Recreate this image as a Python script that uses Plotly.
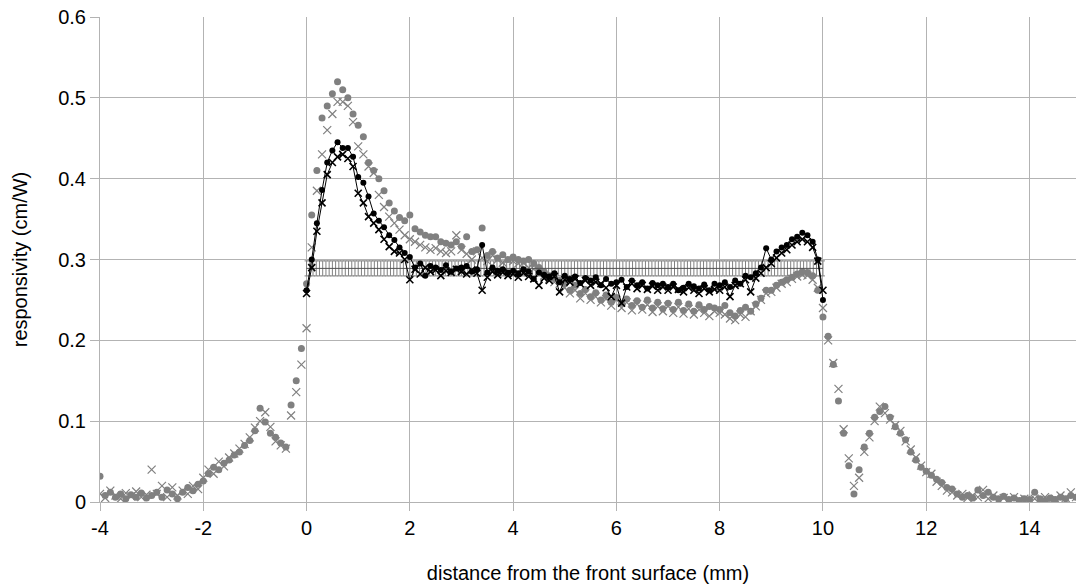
import numpy as np
import plotly.graph_objects as go

# sampling grids (mm)
x_gray = np.round(np.arange(-4.0, 14.95, 0.1), 2)
x_black = np.round(np.arange(0.0, 10.05, 0.1), 2)
x_band = np.round(np.arange(0.0, 10.01, 0.0625), 4)

x_tick_vals = [-4, -2, 0, 2, 4, 6, 8, 10, 12, 14]
x_tick_text = ["-4", "-2", "0", "2", "4", "6", "8", "10", "12", "14"]

gray_dots = [
    0.032, 0.008, 0.012, 0.006, 0.010, 0.004, 0.009, 0.006, 0.011, 0.005,
    0.008, 0.012, 0.006, 0.015, 0.010, 0.004, 0.012, 0.018, 0.014, 0.022,
    0.026, 0.035, 0.043, 0.040, 0.048, 0.052, 0.058, 0.062, 0.070, 0.076,
    0.088, 0.116, 0.099, 0.085, 0.080, 0.073, 0.068, 0.120, 0.150, 0.190,
    0.270, 0.355, 0.410, 0.475, 0.490, 0.505, 0.520, 0.510, 0.500, 0.480,
    0.466, 0.452, 0.420, 0.410, 0.400, 0.385, 0.370, 0.360, 0.352, 0.348,
    0.355, 0.338, 0.334, 0.330, 0.328, 0.328, 0.322, 0.320, 0.318, 0.322,
    0.316, 0.328, 0.310, 0.312, 0.339, 0.305, 0.310, 0.302, 0.306, 0.300,
    0.303, 0.300, 0.298, 0.300, 0.295, 0.290, 0.285, 0.280, 0.277, 0.274,
    0.270, 0.262, 0.268, 0.258, 0.263, 0.254, 0.259, 0.250, 0.256, 0.247,
    0.253, 0.246, 0.251, 0.243, 0.249, 0.241, 0.250, 0.240, 0.247, 0.239,
    0.246, 0.238, 0.247, 0.237, 0.245, 0.236, 0.244, 0.238, 0.242, 0.240,
    0.238, 0.243, 0.234, 0.230, 0.237, 0.241, 0.236, 0.245, 0.252, 0.262,
    0.262, 0.268, 0.272, 0.275, 0.278, 0.282, 0.285, 0.284, 0.280, 0.262,
    0.229, 0.205, 0.170, 0.125, 0.085, 0.045, 0.010, 0.040, 0.068, 0.085,
    0.105, 0.112, 0.118, 0.105, 0.093, 0.085, 0.077, 0.062, 0.052, 0.043,
    0.038, 0.033, 0.028, 0.024, 0.018, 0.016, 0.010, 0.006, 0.008, 0.005,
    0.015, 0.008, 0.012, 0.006, 0.004, 0.007, 0.003, 0.005, 0.002, 0.004,
    0.003, 0.012, 0.004, 0.002, 0.005, 0.003, 0.006, 0.004, 0.008, 0.006,
]

gray_x = [
    0.010, 0.005, 0.014, 0.008, 0.004, 0.011, 0.007, 0.013, 0.006, 0.009,
    0.040, 0.010, 0.020, 0.006, 0.018, 0.008, 0.014, 0.010, 0.020, 0.016,
    0.030, 0.040, 0.035, 0.050, 0.044, 0.055, 0.060, 0.066, 0.072, 0.080,
    0.092, 0.100, 0.111, 0.093, 0.075, 0.070, 0.066, 0.107, 0.136, 0.170,
    0.215, 0.315, 0.385, 0.430, 0.460, 0.480, 0.495, 0.495, 0.490, 0.470,
    0.440, 0.430, 0.415, 0.407, 0.380, 0.365, 0.353, 0.345, 0.337, 0.330,
    0.325, 0.322, 0.318, 0.315, 0.312, 0.314, 0.310, 0.308, 0.310, 0.330,
    0.312, 0.307, 0.300, 0.310, 0.302, 0.298, 0.305, 0.300, 0.296, 0.300,
    0.298, 0.295, 0.296, 0.290, 0.288, 0.285, 0.280, 0.276, 0.272, 0.270,
    0.265, 0.258, 0.262, 0.252, 0.258, 0.250, 0.254, 0.247, 0.251, 0.243,
    0.250, 0.240, 0.247, 0.237, 0.245, 0.238, 0.244, 0.235, 0.242, 0.236,
    0.242, 0.234, 0.241, 0.233, 0.239, 0.232, 0.238, 0.234, 0.230, 0.236,
    0.234, 0.232, 0.227, 0.225, 0.232, 0.229, 0.236, 0.242, 0.250, 0.258,
    0.260, 0.265, 0.270, 0.272, 0.276, 0.279, 0.281, 0.280, 0.275, 0.265,
    0.240, 0.200, 0.172, 0.140, 0.090, 0.054, 0.020, 0.030, 0.062, 0.080,
    0.100, 0.118, 0.110, 0.102, 0.095, 0.088, 0.075, 0.065, 0.055, 0.045,
    0.037, 0.035, 0.025, 0.020, 0.014, 0.012, 0.008, 0.010, 0.005, 0.008,
    0.006, 0.015, 0.004, 0.008, 0.003, 0.005, 0.002, 0.006, 0.003, 0.004,
    0.002, 0.004, 0.003, 0.006, 0.002, 0.004, 0.008, 0.005, 0.012, 0.006,
]

black_dots = [
    0.262, 0.300, 0.345, 0.386, 0.420, 0.435, 0.445, 0.438, 0.438, 0.427,
    0.402, 0.395, 0.378, 0.357, 0.348, 0.340, 0.330, 0.324, 0.315, 0.308,
    0.303, 0.290, 0.295, 0.280, 0.292, 0.290, 0.287, 0.293, 0.285, 0.289,
    0.290, 0.292, 0.285, 0.288, 0.318, 0.284, 0.290, 0.286, 0.288, 0.284,
    0.286, 0.283, 0.288, 0.285, 0.276, 0.284, 0.281, 0.279, 0.283, 0.272,
    0.280, 0.276, 0.279, 0.271, 0.277, 0.274, 0.278, 0.268, 0.276, 0.270,
    0.272, 0.275, 0.266, 0.274, 0.268, 0.272, 0.264, 0.271, 0.268, 0.270,
    0.266, 0.270, 0.262, 0.265, 0.270, 0.267, 0.264, 0.269, 0.262, 0.270,
    0.268, 0.272, 0.266, 0.274, 0.270, 0.280, 0.278, 0.283, 0.290, 0.314,
    0.300, 0.310, 0.315, 0.318, 0.325, 0.328, 0.333, 0.330, 0.322, 0.300,
    0.250,
]

black_x = [
    0.258, 0.290, 0.335, 0.370, 0.405, 0.420, 0.427, 0.430, 0.425, 0.415,
    0.382, 0.370, 0.353, 0.345, 0.337, 0.325, 0.316, 0.310, 0.308, 0.300,
    0.275, 0.288, 0.282, 0.290, 0.285, 0.287, 0.280, 0.286, 0.284, 0.288,
    0.285, 0.282, 0.287, 0.283, 0.262, 0.278, 0.285, 0.281, 0.284, 0.280,
    0.282, 0.278, 0.283, 0.279, 0.276, 0.268, 0.277, 0.274, 0.279, 0.260,
    0.275, 0.272, 0.276, 0.270, 0.274, 0.268, 0.272, 0.270, 0.265, 0.254,
    0.268, 0.246, 0.266, 0.270, 0.264, 0.268, 0.263, 0.267, 0.262, 0.266,
    0.262, 0.266, 0.263, 0.260, 0.265, 0.262, 0.258, 0.264, 0.260, 0.263,
    0.262, 0.266, 0.254, 0.268, 0.270, 0.275, 0.260, 0.277, 0.283, 0.290,
    0.295, 0.302, 0.308, 0.312, 0.318, 0.322, 0.325, 0.322, 0.315, 0.298,
    0.262,
]

band_level = 0.289
band_half = 0.0093

GRAY = "#808080"
GRID = "#b3b3b3"
FONT = "Liberation Sans, Arial, sans-serif"

fig = go.Figure()
fig.add_trace(go.Scatter(
    x=x_gray, y=gray_dots, mode="markers",
    marker=dict(symbol="circle", size=7, color=GRAY, line=dict(width=0)),
))
fig.add_trace(go.Scatter(
    x=x_gray, y=gray_x, mode="markers",
    marker=dict(symbol="x-thin", size=8, color=GRAY, line=dict(width=1.2, color=GRAY)),
))
fig.add_trace(go.Scatter(
    x=x_band, y=[band_level] * len(x_band), mode="lines",
    line=dict(color="#505050", width=1),
    error_y=dict(type="constant", value=band_half, color=GRAY, thickness=1, width=2),
))
fig.add_trace(go.Scatter(
    x=x_black, y=black_x, mode="lines+markers",
    line=dict(color="black", width=1),
    marker=dict(symbol="x-thin", size=7, color="black", line=dict(width=1.6, color="black")),
))
fig.add_trace(go.Scatter(
    x=x_black, y=black_dots, mode="lines+markers",
    line=dict(color="black", width=1),
    marker=dict(symbol="circle", size=6, color="black"),
))

fig.update_layout(
    width=1076, height=586,
    margin=dict(l=100, r=0, t=17, b=84, autoexpand=False),
    paper_bgcolor="white", plot_bgcolor="white",
    showlegend=False,
    hovermode=False,
    font=dict(family=FONT, size=20, color="black"),
    xaxis=dict(
        range=[-4, 14.9], tickvals=x_tick_vals, ticktext=x_tick_text,
        showgrid=True, gridcolor=GRID, gridwidth=1,
        ticks="outside", ticklen=8, tickcolor=GRID, zeroline=False,
        showline=True, linecolor=GRID, linewidth=1, automargin=False,
        title=dict(text="distance from the front surface (mm)", font=dict(size=20), standoff=27),
        tickfont=dict(size=20),
    ),
    yaxis=dict(
        range=[0, 0.6], dtick=0.1, showgrid=True, gridcolor=GRID, gridwidth=1,
        ticks="outside", ticklen=9, tickcolor=GRID, zeroline=False,
        showline=True, linecolor=GRID, linewidth=1, automargin=False,
        title=dict(text="responsivity (cm/W)", font=dict(size=20), standoff=25),
        tickfont=dict(size=20),
    ),
)

fig.write_html(
    "out.html",
    config={"displayModeBar": False, "staticPlot": True},
    post_script="document.body.style.margin='0';document.body.style.overflow='hidden';",
)
